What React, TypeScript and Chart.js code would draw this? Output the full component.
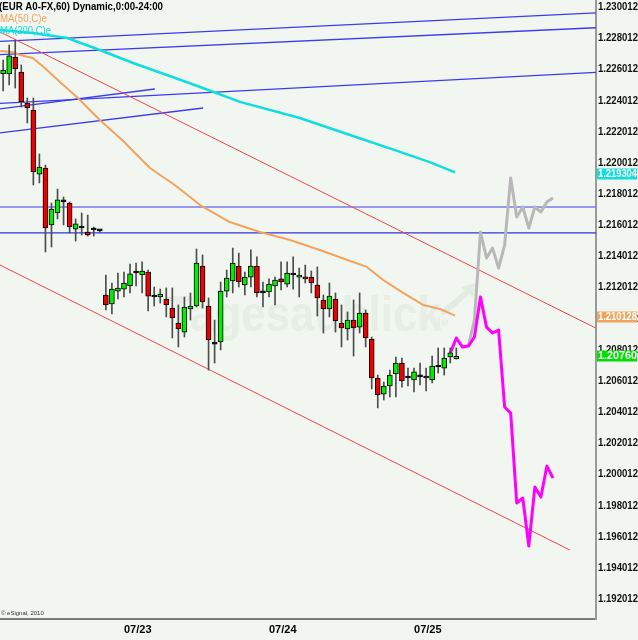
import React, { useEffect, useRef } from 'react';
import { Chart, registerables } from 'chart.js';

Chart.register(...registerables);

const BG = '#f1f6f0';

// ---- candles (hourly, hours relative to 07/23 00:00) ----
const candleHours = [-20, -19, -18, -17, -16, -15, -14, -13, -12, -11, -10, -9, -8, -7, -6, -5, -4,
  -3, -2, -1, 0, 1, 2, 3, 4, 5, 6, 7, 8, 9, 10, 11, 12, 13, 14, 15, 16, 17, 18, 19, 20, 21, 22, 23,
  24, 25, 26, 27, 28, 29, 30, 31, 32, 33, 34, 35, 36, 37, 38, 39, 40, 41, 42, 43, 44, 45, 46, 47,
  48, 49, 50, 51, 52, 53, 54, 55];
const candleOpen = [1.22571, 1.22571, 1.22680, 1.22584, 1.22385, 1.22340, 1.21929, 1.21968, 1.21602, 1.21679,
  1.21750, 1.21743, 1.21576, 1.21583, 1.21557, 1.21570, 1.21564,
  1.21153, 1.21095, 1.21178, 1.21191, 1.21211, 1.21294, 1.21281, 1.21300, 1.21140, 1.21140,
  1.21127, 1.21069, 1.20973, 1.20915, 1.21063, 1.21082, 1.21339, 1.21082, 1.20838, 1.20851,
  1.21178, 1.21243, 1.21339, 1.21217, 1.21268, 1.21339, 1.21166,
  1.21172, 1.21211, 1.21256, 1.21223, 1.21281, 1.21268, 1.21268, 1.21268, 1.21217, 1.21121,
  1.21063, 1.21127, 1.20973, 1.20935, 1.20992, 1.20947, 1.21037, 1.20870, 1.20620, 1.20517,
  1.20569, 1.20646, 1.20716, 1.20620, 1.20607, 1.20627, 1.20633, 1.20607, 1.20691, 1.20684,
  1.20755, 1.20742];
const candleHigh = [1.22661, 1.22757, 1.22789, 1.22629, 1.22417, 1.22417, 1.22058, 1.21987, 1.21743, 1.21833,
  1.21782, 1.21750, 1.21641, 1.21679, 1.21666, 1.21589, 1.21570,
  1.21281, 1.21230, 1.21294, 1.21300, 1.21352, 1.21358, 1.21365, 1.21313, 1.21204, 1.21191,
  1.21198, 1.21198, 1.21089, 1.21140, 1.21166, 1.21448, 1.21410, 1.21134, 1.20992, 1.21236,
  1.21313, 1.21454, 1.21422, 1.21300, 1.21442, 1.21397, 1.21236,
  1.21256, 1.21268, 1.21365, 1.21365, 1.21397, 1.21326, 1.21345, 1.21307, 1.21333, 1.21153,
  1.21230, 1.21166, 1.21089, 1.21044, 1.21121, 1.21166, 1.21057, 1.20883, 1.20639, 1.20594,
  1.20671, 1.20755, 1.20748, 1.20684, 1.20684, 1.20716, 1.20684, 1.20761, 1.20813, 1.20813,
  1.20813, 1.20813];
const candleLow = [1.22462, 1.22501, 1.22481, 1.22359, 1.22257, 1.21859, 1.21872, 1.21429, 1.21461, 1.21641,
  1.21602, 1.21551, 1.21499, 1.21538, 1.21531, 1.21531, 1.21557,
  1.21057, 1.21031, 1.21127, 1.21140, 1.21166, 1.21211, 1.21166, 1.21050, 1.21082, 1.21101,
  1.21012, 1.20877, 1.20819, 1.20883, 1.20992, 1.21076, 1.21069, 1.20671, 1.20716, 1.20800,
  1.21140, 1.21166, 1.21204, 1.21153, 1.21204, 1.21140, 1.21076,
  1.21140, 1.21089, 1.21185, 1.21204, 1.21191, 1.21140, 1.21230, 1.21166, 1.21018, 1.20909,
  1.21012, 1.20915, 1.20819, 1.20864, 1.20761, 1.20909, 1.20819, 1.20550, 1.20428, 1.20479,
  1.20498, 1.20498, 1.20562, 1.20569, 1.20530, 1.20575, 1.20537, 1.20588, 1.20652, 1.20639,
  1.20716, 1.20742];
const candleClose = [1.22597, 1.22687, 1.22603, 1.22392, 1.22353, 1.21942, 1.21974, 1.21583, 1.21705, 1.21763,
  1.21750, 1.21589, 1.21609, 1.21583, 1.21538, 1.21570, 1.21564,
  1.21089, 1.21191, 1.21198, 1.21230, 1.21288, 1.21294, 1.21307, 1.21146, 1.21140, 1.21159,
  1.21089, 1.21005, 1.20935, 1.21076, 1.21082, 1.21358, 1.21108, 1.20864, 1.20838, 1.21178,
  1.21262, 1.21358, 1.21236, 1.21268, 1.21339, 1.21166, 1.21166,
  1.21223, 1.21249, 1.21236, 1.21294, 1.21281, 1.21281, 1.21256, 1.21230, 1.21134, 1.21063,
  1.21146, 1.20986, 1.20941, 1.20992, 1.20941, 1.21037, 1.20877, 1.20620, 1.20511, 1.20569,
  1.20639, 1.20716, 1.20601, 1.20620, 1.20659, 1.20627, 1.20620, 1.20697, 1.20691, 1.20748,
  1.20781, 1.20760];

// ---- moving averages ----
const ma50Hours = [-20.5, -18.4, -17.2, -15.1, -13.1, -10.6, -7.8, -4.0, -0.3, 4.3, 8.4, 12.6, 17.5,
  22.5, 27.5, 32.4, 37.9, 40.2, 42.9, 46.2, 49.5, 52.3, 54.8];
const ma50Values = [1.22719, 1.22712, 1.22693, 1.22674, 1.22610, 1.22520, 1.22424, 1.22276, 1.22148,
  1.21968, 1.21859, 1.21730, 1.21621, 1.21557, 1.21506, 1.21442, 1.21365, 1.21333, 1.21249, 1.21166,
  1.21089, 1.21063, 1.21020];
const ma200Hours = [-20.5, -15.1, -9.4, -4.0, 1.5, 7.1, 12.6, 19.2, 29.1, 37.4, 45.7, 50.6, 54.8];
const ma200Values = [1.22854, 1.22834, 1.22802, 1.22725, 1.22642, 1.22565, 1.22488, 1.22392, 1.22289,
  1.22180, 1.22071, 1.22006, 1.21940];

// ---- projections ----
const magentaHours = [54, 55, 56, 57, 58, 59, 60, 61, 62, 63, 64, 65, 66, 67, 68, 69, 70, 71];
const magentaValues = [1.20780, 1.20877, 1.20819, 1.20825, 1.20883, 1.21140, 1.20947, 1.20909, 1.20928,
  1.20434, 1.20395, 1.19818, 1.19850, 1.19542, 1.19920, 1.19856, 1.20055, 1.19978];
const grayHours = [57, 58, 59, 60, 61, 62, 63, 64, 65, 66, 67, 68, 69, 70, 71];
const grayValues = [1.20825, 1.20992, 1.21557, 1.21390, 1.21454, 1.21326, 1.21474, 1.21904, 1.21653,
  1.21718, 1.21583, 1.21718, 1.21685, 1.21750, 1.21775];

// ---- trend lines (start / end) ----
const redUpperHours = [-20.52, 78.12];
const redUpperValues = [1.22841, 1.20940];
const redLowerHours = [-20.52, 73.8];
const redLowerValues = [1.21345, 1.19516];
const blueAHours = [-20.52, 78.12];
const blueAValues = [1.22780, 1.22963];
const blueBHours = [-20.52, 78.12];
const blueBValues = [1.22696, 1.22868];
const blueCHours = [-20.52, 78.12];
const blueCValues = [1.22382, 1.22581];
const blueDHours = [-20.52, 5.1];
const blueDValues = [1.22347, 1.22475];
const blueEHours = [-20.52, 13.1];
const blueEValues = [1.22193, 1.22353];
const hLine1Hours = [-20.52, 78.12];
const hLine1Values = [1.21718, 1.21718];
const hLine2Hours = [-20.52, 78.12];
const hLine2Values = [1.21551, 1.21551];

// ---- axes ----
const xTickHours = [0, 24, 48];
const xTickLabels = ['07/23', '07/24', '07/25'];
const yTickLabels = ['1.230012', '1.228012', '1.226012', '1.224012', '1.222012', '1.220012', '1.218012',
  '1.216012', '1.214012', '1.212012', '1.210012', '1.208012', '1.206012', '1.204012', '1.202012',
  '1.200012', '1.198012', '1.196012', '1.194012', '1.192012'];
const markerLabels = ['1.219304', '1.210128', '1.20760'];
const markerColors = ['#10dede', '#f2a45e', '#00e000'];

const X_MIN = -20.52;
const X_MAX = 78.12;
const Y_MIN = 1.190734;
const Y_MAX = 1.230461;

function lineDs(hours: number[], values: number[], color: string, width: number, order: number) {
  return {
    type: 'line' as const,
    data: hours.map((h, i) => ({ x: h, y: values[i] })),
    borderColor: color,
    borderWidth: width,
    pointRadius: 0,
    pointHoverRadius: 0,
    tension: 0,
    borderJoinStyle: 'round' as const,
    fill: false,
    order,
  };
}

const bgPlugin = {
  id: 'bgPlugin',
  beforeDraw(chart: any) {
    const ctx = chart.ctx;
    ctx.save();
    ctx.fillStyle = BG;
    ctx.fillRect(0, 0, chart.width, chart.height);
    ctx.restore();
  },
  beforeDatasetsDraw(chart: any) {
    const ctx = chart.ctx;
    ctx.save();
    ctx.fillStyle = '#e6eee5';
    ctx.textBaseline = 'alphabetic';
    ctx.font = 'bold 50px "Liberation Sans", Arial, sans-serif';
    ctx.fillText('Tagesaublick', 166, 331, 276);
    ctx.font = 'bold 13px "Liberation Sans", Arial, sans-serif';
    ctx.fillText('de', 433, 326);
    ctx.strokeStyle = '#e2ece1';
    ctx.lineWidth = 6;
    ctx.lineCap = 'round';
    ctx.beginPath();
    ctx.moveTo(444, 312);
    ctx.lineTo(470, 290);
    ctx.stroke();
    ctx.fillStyle = '#e2ece1';
    ctx.beginPath();
    ctx.moveTo(476, 283);
    ctx.lineTo(461, 287);
    ctx.lineTo(473, 298);
    ctx.closePath();
    ctx.fill();
    ctx.restore();
  },
  afterDraw(chart: any) {
    const ctx = chart.ctx;
    const ys = chart.scales.y;
    const area = chart.chartArea;
    ctx.save();
    ctx.textBaseline = 'middle';
    ctx.textAlign = 'left';
    ctx.font = 'bold 11px "Liberation Sans", Arial, sans-serif';
    ctx.fillStyle = '#111';
    yTickLabels.forEach((lab) => {
      const y = ys.getPixelForValue(parseFloat(lab));
      ctx.fillText(lab, area.right + 2, y, 40);
    });
    markerLabels.forEach((lab, i) => {
      const y = ys.getPixelForValue(parseFloat(lab));
      ctx.fillStyle = markerColors[i];
      ctx.fillRect(area.right + 1, Math.round(y) - 5.5, 40, 11);
      ctx.fillStyle = '#ffffff';
      ctx.fillText(lab, area.right + 2, y, 39);
    });
    // legend texts
    ctx.fillStyle = '#000';
    ctx.font = 'bold 11px "Liberation Sans", Arial, sans-serif';
    ctx.fillText('(EUR A0-FX,60) Dynamic,0:00-24:00', -1, 7, 164);
    ctx.font = '11px "Liberation Sans", Arial, sans-serif';
    ctx.fillStyle = '#f2a45e';
    ctx.fillText('MA(50,C)e', 0, 19, 47);
    ctx.fillStyle = '#10dede';
    ctx.fillText('MA(200,C)e', 0, 31, 51);
    ctx.fillStyle = '#333';
    ctx.font = '6px "Liberation Sans", Arial, sans-serif';
    ctx.fillText('\u00a9 eSignal, 2010', 1, 613);
    ctx.restore();
  },
};

export default function App() {
  const ref = useRef<HTMLCanvasElement>(null);
  useEffect(() => {
    document.body.style.margin = '0';
    document.body.style.background = BG;
    const canvas = ref.current as HTMLCanvasElement;
    const bodyColors = candleOpen.map((o, i) =>
      candleClose[i] > o ? '#00ee00' : candleClose[i] < o ? '#ee0000' : '#000000');
    const chart = new Chart(canvas, {
      type: 'bar',
      data: {
        datasets: [
          {
            type: 'bar',
            data: candleHours.map((h, i) => ({ x: h, y: [candleOpen[i], candleClose[i]] })),
            backgroundColor: bodyColors,
            borderColor: '#000000',
            borderWidth: 1,
            borderSkipped: false,
            barThickness: 5,
            minBarLength: 2,
            grouped: false,
            order: 0,
          } as any,
          {
            type: 'bar',
            data: candleHours.map((h, i) => ({ x: h, y: [candleLow[i], candleHigh[i]] })),
            backgroundColor: '#4d4d4d',
            borderWidth: 0,
            barThickness: 1,
            grouped: false,
            order: 1,
          } as any,
          lineDs(magentaHours, magentaValues, '#ff00ff', 3, 2),
          lineDs(grayHours, grayValues, '#b8b8b8', 3, 3),
          lineDs(ma50Hours, ma50Values, '#f2a45e', 2, 4),
          lineDs(ma200Hours, ma200Values, '#10dede', 2.5, 4),
          lineDs(redUpperHours, redUpperValues, '#f04848', 1, 5),
          lineDs(redLowerHours, redLowerValues, '#f04848', 1, 5),
          lineDs(blueAHours, blueAValues, '#3c3cee', 1.3, 6),
          lineDs(blueBHours, blueBValues, '#3c3cee', 1.3, 6),
          lineDs(blueCHours, blueCValues, '#3c3cee', 1.3, 6),
          lineDs(blueDHours, blueDValues, '#3c3cee', 1.3, 6),
          lineDs(blueEHours, blueEValues, '#3c3cee', 1.3, 6),
          lineDs(hLine1Hours, hLine1Values, '#7878f0', 1.5, 6),
          lineDs(hLine2Hours, hLine2Values, '#3030e0', 1.2, 6),
        ] as any,
      },
      options: {
        responsive: false,
        animation: false,
        events: [],
        layout: { padding: 0 },
        plugins: { legend: { display: false }, tooltip: { enabled: false } },
        scales: {
          x: {
            type: 'linear',
            min: X_MIN,
            max: X_MAX,
            offset: false,
            afterBuildTicks: (s: any) => { s.ticks = xTickHours.map((v) => ({ value: v })); },
            afterFit: (s: any) => { s.height = 21; },
            grid: { display: false, drawTicks: false },
            border: { display: true, color: '#7a7a7a', width: 2 },
            ticks: {
              autoSkip: false,
              maxRotation: 0,
              align: 'start',
              padding: 4,
              color: '#000',
              font: { family: '"Liberation Sans", Arial, sans-serif', size: 11, weight: 'bold' },
              callback: (v: any) => {
                const i = xTickHours.indexOf(Number(v));
                return i >= 0 ? xTickLabels[i] : '';
              },
            },
          },
          y: {
            type: 'linear',
            position: 'right',
            min: Y_MIN,
            max: Y_MAX,
            afterBuildTicks: (s: any) => { s.ticks = yTickLabels.map((l) => ({ value: parseFloat(l) })); },
            afterFit: (s: any) => { s.width = 42; },
            grid: { display: false, drawTicks: false },
            border: { display: true, color: '#9a9a9a', width: 2 },
            ticks: { display: false },
          },
        },
      } as any,
      plugins: [bgPlugin],
    });
    return () => chart.destroy();
  }, []);
  return <canvas ref={ref} width={638} height={640} style={{ display: 'block' }} />;
}
